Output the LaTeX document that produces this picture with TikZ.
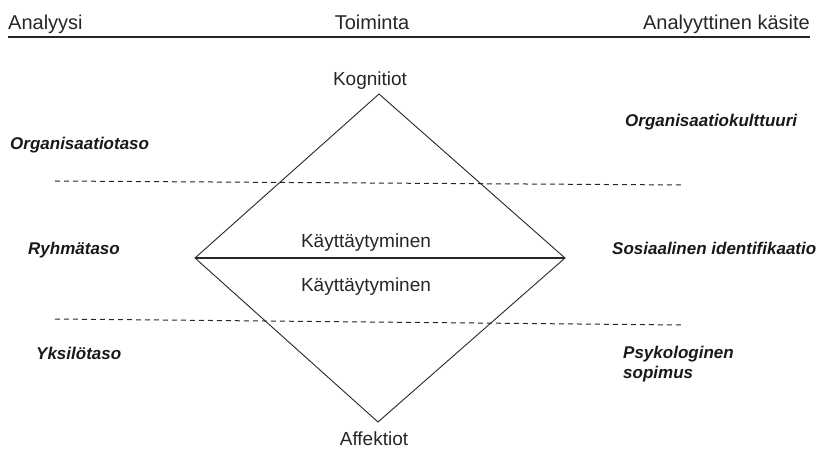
\documentclass[tikz,border=0pt]{standalone}
\usepackage{fontspec}
\setmainfont{Liberation Sans}
\begin{document}
\begin{tikzpicture}[x=1pt,y=-1pt,
  head/.style={font=\fontsize{20}{23}\selectfont, text=black!85, inner sep=0pt},
  plain/.style={font=\fontsize{19}{22}\selectfont, text=black!85, inner sep=0pt},
  level/.style={font=\fontsize{17}{20}\selectfont\bfseries\itshape, text=black!90, inner sep=0pt, align=left},
  edge/.style={draw=black!85, line width=0.9pt},
  divider/.style={draw=black!85, dashed, dash pattern=on 5pt off 4pt, line width=1pt}]
\useasboundingbox (0,0) rectangle (817,449);

% column headings and rule
\node[head, anchor=base west] (hA) at (8,30) {Analyysi};
\node[head, anchor=base] (hT) at (372,30) {Toiminta};
\node[head, anchor=base east] (hK) at (810,30) {Analyyttinen käsite};
\coordinate (ruleL) at (8,37);
\coordinate (ruleR) at (810,37);
\draw[black!85, line width=1.8pt] (ruleL) -- (ruleR);

% diamond corners
\coordinate (top) at (379,94);
\coordinate (left) at (195,258);
\coordinate (right) at (565,258);
\coordinate (bottom) at (378,422);
\draw[edge] (left) -- (top) -- (right) -- (bottom) -- cycle;
\draw[black!85, line width=1.4pt] (left) -- (right);

% corner and centre labels
\node[plain, anchor=base] (kog) at (370,86) {Kognitiot};
\node[plain, anchor=base] (aff) at (374,445) {Affektiot};
\node[plain, anchor=base] (k1) at (366,248) {Käyttäytyminen};
\node[plain, anchor=base] (k2) at (366,291) {Käyttäytyminen};

% level dividers
\coordinate (d1a) at (55,181);
\coordinate (d1b) at (683,185);
\coordinate (d2a) at (55,319);
\coordinate (d2b) at (683,325);
\draw[divider] (d1a) -- (d1b);
\draw[divider] (d2a) -- (d2b);

% levels of analysis
\node[level, anchor=west] (org) at (10,145) {Organisaatiotaso};
\node[level, anchor=west] (ryh) at (28,250) {Ryhmätaso};
\node[level, anchor=west] (yks) at (36,353) {Yksilötaso};

% analytical concepts
\node[level, anchor=west] (kult) at (625,122) {Organisaatiokulttuuri};
\node[level, anchor=west] (sos) at (612,248) {Sosiaalinen identifikaatio};
\node[level, anchor=north west] (psy) at (623,346) {Psykologinen\\sopimus};
\end{tikzpicture}
\end{document}
